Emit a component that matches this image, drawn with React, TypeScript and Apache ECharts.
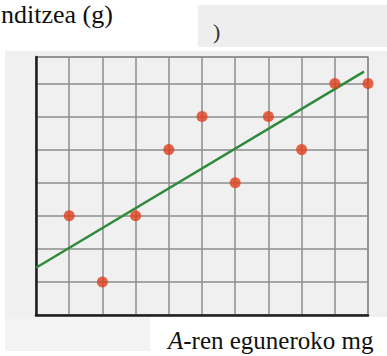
import React, { useEffect, useRef } from "react";
import * as echarts from "echarts";

// Data (grid units)
const pointsX = [1, 2, 3, 4, 5, 6, 7, 8, 9, 10];
const pointsY = [3, 1, 3, 5, 6, 4, 6, 5, 7, 7];
const trendX = [0, 9.88];
const trendY = [1.43, 7.36];
const yTitle = "nditzea (g)";
const xTitleItalic = "A";
const xTitleRest = "-ren eguneroko mg";
const strayMark = ")";

const SERIF = "Liberation Serif";

export default function App() {
  const ref = useRef<HTMLDivElement>(null);
  useEffect(() => {
    if (!ref.current) return;
    const chart = echarts.init(ref.current, null, { renderer: "svg" });
    const scatterData = pointsX.map((x, i) => [x, pointsY[i]]);
    const lineData = trendX.map((x, i) => [x, trendY[i]]);
    chart.setOption({
      animation: false,
      backgroundColor: "#ffffff",
      grid: {
        left: 36,
        top: 57,
        width: 332,
        height: 258,
        show: true,
        borderColor: "#8e8e8e",
        borderWidth: 1.5,
        backgroundColor: "transparent",
      },
      xAxis: {
        type: "value",
        min: 0,
        max: 10,
        interval: 1,
        axisLine: { show: true, onZero: false, lineStyle: { color: "#1e1e1e", width: 2.5 } },
        axisTick: { show: false },
        axisLabel: { show: false },
        splitLine: { show: true, lineStyle: { color: "#8e8e8e", width: 1.5 } },
      },
      yAxis: {
        type: "value",
        min: 0,
        max: 7.8,
        interval: 1,
        axisLine: { show: true, onZero: false, lineStyle: { color: "#1e1e1e", width: 2.5 } },
        axisTick: { show: false },
        axisLabel: { show: false },
        splitLine: { show: true, lineStyle: { color: "#8e8e8e", width: 1.5 } },
      },
      graphic: [
        { type: "rect", z: -10, shape: { x: 198, y: 5, width: 189, height: 42 }, style: { fill: "#eeeeee" } },
        { type: "rect", z: -10, shape: { x: 5, y: 51, width: 382, height: 266 }, style: { fill: "#f0f0f0" } },
        { type: "rect", z: -10, shape: { x: 5, y: 317, width: 145, height: 34 }, style: { fill: "#f3f3f3" } },
        { type: "rect", z: -9, shape: { x: 0, y: 0, width: 198, height: 51 }, style: { fill: "#ffffff" } },
        { type: "rect", z: -9, shape: { x: 150, y: 318, width: 237, height: 38 }, style: { fill: "#ffffff" } },
        {
          type: "text",
          z: 10,
          x: 1,
          y: 1,
          style: {
            text: yTitle,
            fontFamily: SERIF,
            fontSize: 26,
            fill: "#111111",
            verticalAlign: "top",
          },
        },
        {
          type: "text",
          z: 10,
          x: 213,
          y: 20,
          style: {
            text: strayMark,
            fontFamily: SERIF,
            fontSize: 22,
            fill: "#333333",
            verticalAlign: "top",
          },
        },
        {
          type: "text",
          z: 10,
          x: 168,
          y: 328,
          style: {
            text: "{i|" + xTitleItalic + "}{n|" + xTitleRest + "}",
            verticalAlign: "top",
            fill: "#111111",
            rich: {
              i: { fontFamily: SERIF, fontStyle: "italic", fontSize: 25, fill: "#111111" },
              n: { fontFamily: SERIF, fontSize: 25, fill: "#111111" },
            },
          },
        },
      ],
      series: [
        {
          type: "line",
          data: lineData,
          symbol: "none",
          z: 3,
          lineStyle: { color: "#2f8a3c", width: 2.5 },
        },
        {
          type: "scatter",
          data: scatterData,
          symbol: "circle",
          symbolSize: 11,
          z: 5,
          itemStyle: { color: "#e0401e" },
        },
      ],
    });
    return () => chart.dispose();
  }, []);
  return (
    <div
      ref={ref}
      style={{ position: "absolute", left: 0, top: 0, width: 387, height: 356 }}
    />
  );
}
